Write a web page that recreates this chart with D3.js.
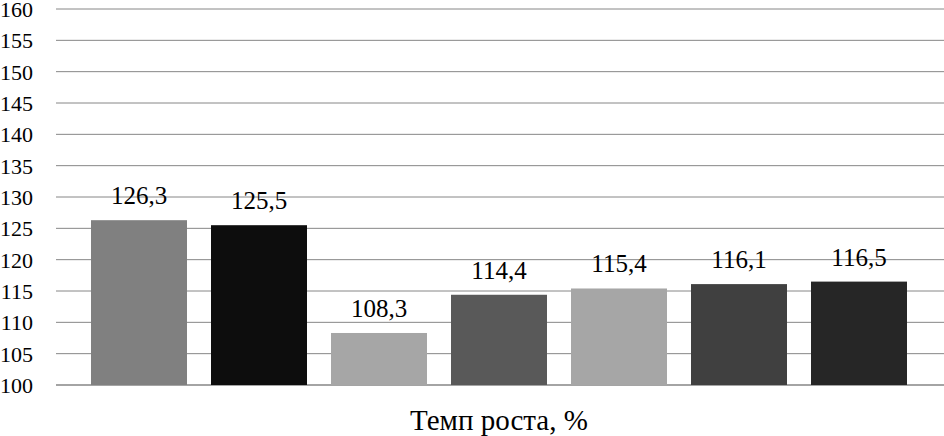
<!DOCTYPE html>
<html><head><meta charset="utf-8">
<script src="https://cdn.jsdelivr.net/npm/d3@7"></script>
<style>body{margin:0;background:#fff}svg{display:block}</style>
</head><body>
<script>
const categories = ["A1","A2","A3","A4","A5","A6","A7"];
const values = [126.3, 125.5, 108.3, 114.4, 115.4, 116.1, 116.5];
const labels = ["126,3","125,5","108,3","114,4","115,4","116,1","116,5"];
const colors = ["#808080","#0d0d0d","#a6a6a6","#595959","#a6a6a6","#404040","#262626"];
const yTicks = [100,105,110,115,120,125,130,135,140,145,150,155,160];
const xTitle = "Темп роста, %";

const W = 944, H = 436;
const FONT = "'Liberation Serif', 'Times New Roman', serif";
const svg = d3.select("body").append("svg").attr("width", W).attr("height", H);

const y = d3.scaleLinear().domain([100,160]).range([385, 9]);
const x = d3.scaleBand().domain(categories).range([79, 919]).paddingInner(0.2).paddingOuter(0.1);

svg.append("g").selectAll("line").data(yTicks).join("line")
  .attr("x1", 56).attr("x2", W)
  .attr("y1", d => y(d)).attr("y2", d => y(d))
  .attr("stroke", "#868686").attr("stroke-width", d => d === 100 ? 1.5 : 1);

svg.append("g").selectAll("text").data(yTicks).join("text")
  .attr("x", 33).attr("y", d => y(d) + 8)
  .attr("text-anchor", "end").style("font-family", FONT).style("font-size", "22px")
  .attr("fill", "#000").text(d => d);

svg.append("g").selectAll("rect").data(values).join("rect")
  .attr("x", (d,i) => x(categories[i])).attr("width", x.bandwidth())
  .attr("y", d => y(d)).attr("height", d => y(100) - y(d))
  .attr("fill", (d,i) => colors[i]);

svg.append("g").selectAll("text").data(values).join("text")
  .attr("x", (d,i) => x(categories[i]) + x.bandwidth()/2)
  .attr("y", d => y(d) - 16)
  .attr("text-anchor", "middle").style("font-family", FONT).style("font-size", "25px")
  .attr("fill", "#000").text((d,i) => labels[i]);

svg.append("text").attr("x", 499).attr("y", 430)
  .attr("text-anchor", "middle").style("font-family", FONT).style("font-size", "29px")
  .attr("fill", "#000").text(xTitle);
</script>
</body></html>
